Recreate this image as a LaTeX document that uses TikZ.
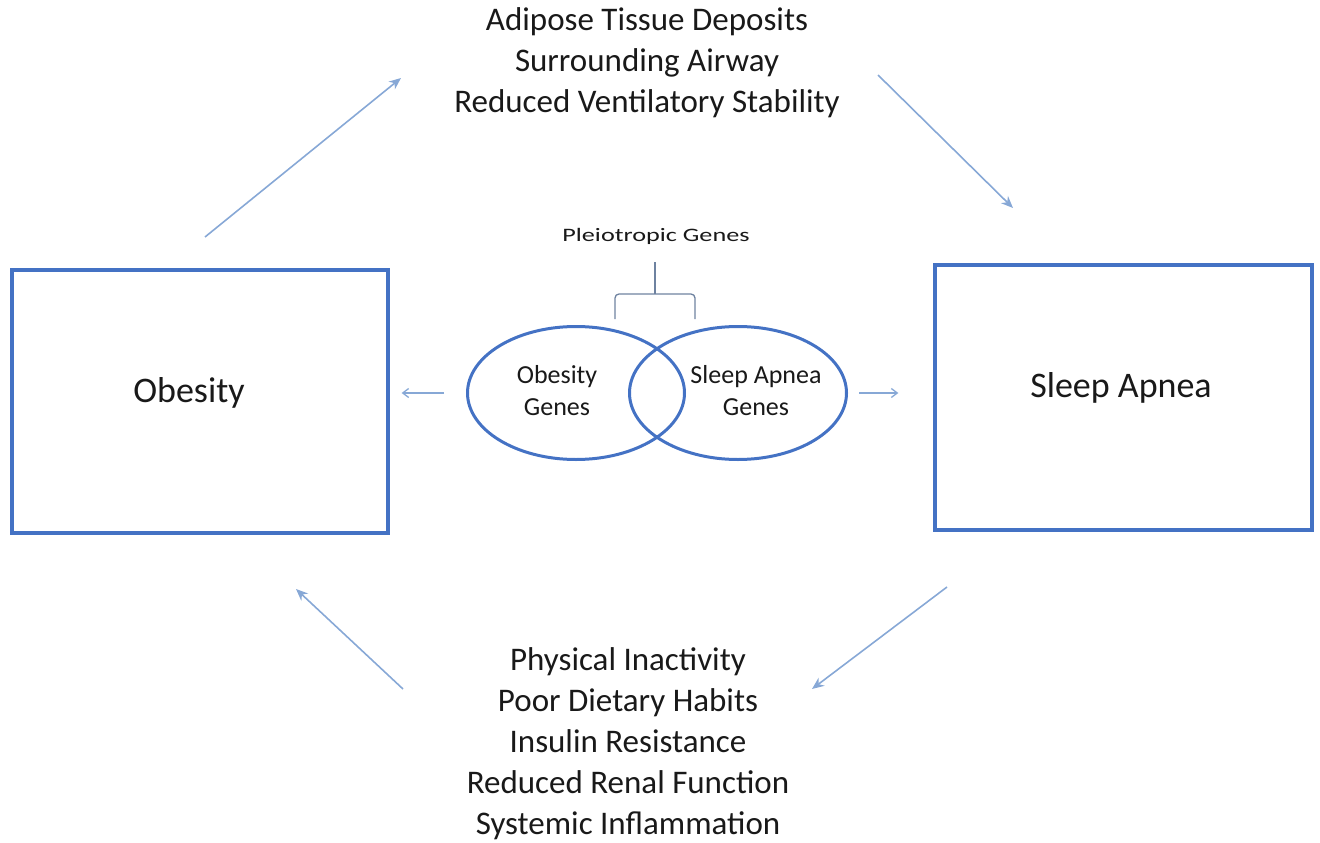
\documentclass[tikz,border=0pt]{standalone}
\usepackage{fontspec}
\setmainfont{Carlito}
\usetikzlibrary{shapes.geometric,arrows.meta,calc}
\definecolor{boxblue}{RGB}{68,114,196}
\definecolor{arrblue}{RGB}{135,168,214}
\definecolor{txt}{RGB}{25,25,25}
\definecolor{brk}{RGB}{110,130,160}
\begin{document}
\begin{tikzpicture}[x=1pt,y=-1pt,
  mainbox/.style={draw=boxblue,line width=3.2pt,minimum width=376pt,minimum height=263pt,inner sep=0pt,
    font=\fontsize{36}{43}\selectfont,text=txt},
  gene/.style={ellipse,draw=boxblue,line width=3pt,minimum width=217pt,minimum height=133pt,inner sep=0pt},
  genetext/.style={align=center,font=\fontsize{26}{32}\selectfont,text=txt,inner sep=0pt},
  listtext/.style={align=center,font=\fontsize{33}{41}\selectfont,text=txt,inner sep=0pt},
  flow/.style={draw=arrblue,line width=1.6pt,-{Stealth[length=12pt,width=10pt]}},
  small/.style={draw=arrblue,line width=1.3pt,-{Straight Barb[length=6pt,width=9pt]}}]
\useasboundingbox (0,0) rectangle (1320,843);
\node[mainbox] (obox) at (200,401.5) {};
\node[txt,font=\fontsize{36}{43}\selectfont,inner sep=0pt] (olab) at (189,393) {Obesity};
\node[mainbox,minimum width=377pt,minimum height=265pt] (sbox) at (1123.5,397.5) {};
\node[txt,font=\fontsize{36}{43}\selectfont,inner sep=0pt] (slab) at (1121,388) {Sleep Apnea};
\node[gene] (lell) at (576,393) {};
\node[gene] (rell) at (738,393) {};
\node[genetext] (lgt) at (557,391) {Obesity\\Genes};
\node[genetext] (rgt) at (756,391) {Sleep Apnea\\Genes};
\node[text=txt,inner sep=0pt] (pg) at (656,236) {\scalebox{1.38}[1]{\fontsize{19}{22}\selectfont Pleiotropic Genes}};
\coordinate (bl) at (615,319);
\coordinate (br) at (695,319);
\coordinate (bm) at (655,262);
\draw[brk,line width=1.3pt,rounded corners=4pt] (bl) -- (615,294) -- (695,294) -- (br);
\draw[brk,line width=1.3pt] (655,294) -- (bm);
\node[listtext] (top) at (647,63) {Adipose Tissue Deposits\\Surrounding Airway\\Reduced Ventilatory Stability};
\node[listtext] (bot) at (628,744) {Physical Inactivity\\Poor Dietary Habits\\Insulin Resistance\\Reduced Renal Function\\Systemic Inflammation};
\coordinate (a1s) at (205,237);
\coordinate (a1e) at (401,78);
\coordinate (a2s) at (878,75);
\coordinate (a2e) at (1013,208);
\coordinate (a3s) at (947,587);
\coordinate (a3e) at (812,689);
\coordinate (a4s) at (403,689);
\coordinate (a4e) at (296,589);
\draw[flow] (a1s) -- (a1e);
\draw[flow] (a2s) -- (a2e);
\draw[flow] (a3s) -- (a3e);
\draw[flow] (a4s) -- (a4e);
\draw[small,shorten <=22pt,shorten >=12pt] (lell.west) -- (lell.west -| obox.east);
\draw[small,shorten <=11pt,shorten >=35pt] (rell.east) -- (rell.east -| sbox.west);
\end{tikzpicture}
\end{document}
